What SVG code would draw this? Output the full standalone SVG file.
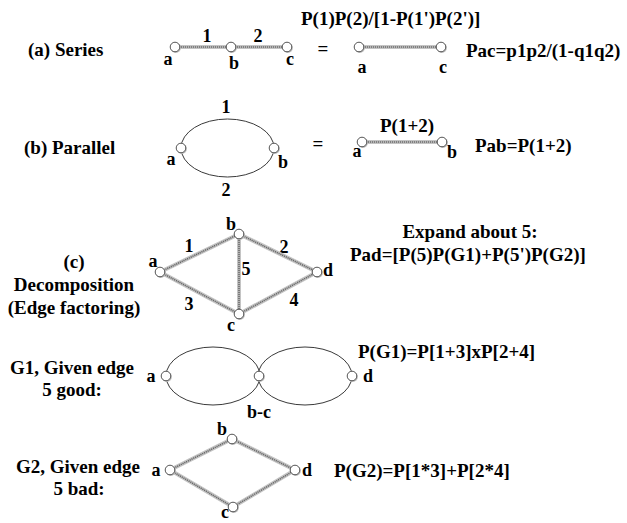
<svg xmlns="http://www.w3.org/2000/svg" width="627" height="523" viewBox="0 0 627 523">
<style>
text{font-family:"Liberation Serif","Times New Roman",serif;font-weight:bold;fill:#000}
.t{font-size:19px}
.l{font-size:18px}
.m{text-anchor:middle}
.eo{stroke:#c4c4c4;stroke-width:4;fill:none;stroke-linecap:round}
.ei{stroke:#6a6a6a;stroke-width:1.6;fill:none;stroke-dasharray:1.2 0.8}
.arc{stroke:#3a3a3a;stroke-width:1;fill:none}
.n{fill:#fff;stroke:#555;stroke-width:1}
.ns{fill:#bbb}
</style>
<defs>
<g id="nd"><circle class="ns" cx="0.8" cy="0.9" r="5"/><circle class="n" cx="0" cy="0" r="4.8"/></g>
</defs>

<g id="labels">
<text class="t" x="28" y="56">(a) Series</text>
<text class="t" x="301" y="25">P(1)P(2)/[1-P(1')P(2')]</text>
<text class="t m" x="323" y="55">=</text>
<text class="t" x="466" y="57">Pac=p1p2/(1-q1q2)</text>
<text class="l m" x="207" y="42">1</text>
<text class="l m" x="258" y="42">2</text>
<text class="l m" x="168" y="65">a</text>
<text class="l m" x="234" y="69">b</text>
<text class="l m" x="290" y="65">c</text>
<text class="l m" x="362" y="73">a</text>
<text class="l m" x="443" y="73">c</text>

<text class="t" x="24" y="154">(b) Parallel</text>
<text class="l m" x="226" y="113">1</text>
<text class="l m" x="226" y="196">2</text>
<text class="l m" x="171" y="165">a</text>
<text class="l m" x="283" y="168">b</text>
<text class="t m" x="318" y="150">=</text>
<text class="t m" x="407" y="132">P(1+2)</text>
<text class="l m" x="357" y="157">a</text>
<text class="l m" x="452" y="158">b</text>
<text class="t" x="475" y="152">Pab=P(1+2)</text>

<text class="t m" x="74" y="268">(c)</text>
<text class="t m" x="74" y="291">Decomposition</text>
<text class="t m" x="74" y="314">(Edge factoring)</text>
<text class="l m" x="153" y="267">a</text>
<text class="l m" x="231" y="230">b</text>
<text class="l m" x="231" y="331">c</text>
<text class="l m" x="328" y="276">d</text>
<text class="l m" x="189" y="252">1</text>
<text class="l m" x="284" y="253">2</text>
<text class="l m" x="189" y="310">3</text>
<text class="l m" x="294" y="306">4</text>
<text class="l m" x="246" y="275">5</text>
<text class="t m" x="470" y="238">Expand about 5:</text>
<text class="t" x="350" y="261">Pad=[P(5)P(G1)+P(5')P(G2)]</text>

<text class="t m" x="72" y="374">G1, Given edge</text>
<text class="t m" x="72" y="396">5 good:</text>
<text class="l m" x="151" y="382">a</text>
<text class="l m" x="368" y="382">d</text>
<text class="l m" x="259" y="418">b-c</text>
<text class="t" x="358" y="358">P(G1)=P[1+3]xP[2+4]</text>

<text class="t m" x="78" y="473">G2, Given edge</text>
<text class="t m" x="79" y="495">5 bad:</text>
<text class="l m" x="222" y="435">b</text>
<text class="l m" x="156" y="476">a</text>
<text class="l m" x="307" y="476">d</text>
<text class="l m" x="225" y="518">c</text>
<text class="t" x="334" y="477">P(G2)=P[1*3]+P[2*4]</text>
</g>

<g id="connectors">
<g id="e-series">
<path class="eo" d="M175 47H231M231 47H287M359 47H441"/>
<path class="ei" d="M175 47H231M231 47H287M359 47H441"/>
</g>
<g id="e-parallel">
<ellipse class="arc" cx="227.5" cy="148" rx="46.5" ry="29"/>
<path class="eo" d="M362 142H442"/>
<path class="ei" d="M362 142H442"/>
</g>
<g id="e-diamond">
<path class="eo" d="M160 272L239 234M239 234L317 272M160 272L239 314M239 314L317 272M239 234V314"/>
<path class="ei" d="M160 272L239 234M239 234L317 272M160 272L239 314M239 314L317 272M239 234V314"/>
</g>
<g id="e-g1">
<ellipse class="arc" cx="213" cy="376" rx="47" ry="29"/>
<ellipse class="arc" cx="305" cy="376" rx="47" ry="29"/>
</g>
<g id="e-g2">
<path class="eo" d="M170 470L232 439L295 470L233 507Z"/>
<path class="ei" d="M170 470L232 439L295 470L233 507Z"/>
</g>
</g>

<g id="s-a"><use href="#nd" x="175" y="47"/></g>
<g id="s-b"><use href="#nd" x="231" y="47"/></g>
<g id="s-c"><use href="#nd" x="287" y="47"/></g>
<g id="s2-a"><use href="#nd" x="359" y="47"/></g>
<g id="s2-c"><use href="#nd" x="441" y="47"/></g>
<g id="p-a"><use href="#nd" x="181" y="148"/></g>
<g id="p-b"><use href="#nd" x="274" y="148"/></g>
<g id="p2-a"><use href="#nd" x="362" y="142"/></g>
<g id="p2-b"><use href="#nd" x="442" y="142"/></g>
<g id="c-a"><use href="#nd" x="160" y="272"/></g>
<g id="c-b"><use href="#nd" x="239" y="234"/></g>
<g id="c-c"><use href="#nd" x="239" y="314"/></g>
<g id="c-d"><use href="#nd" x="317" y="272"/></g>
<g id="g1-a"><use href="#nd" x="166" y="376"/></g>
<g id="g1-bc"><use href="#nd" x="259" y="376"/></g>
<g id="g1-d"><use href="#nd" x="352" y="376"/></g>
<g id="g2-a"><use href="#nd" x="170" y="470"/></g>
<g id="g2-b"><use href="#nd" x="232" y="439"/></g>
<g id="g2-c"><use href="#nd" x="233" y="507"/></g>
<g id="g2-d"><use href="#nd" x="295" y="470"/></g>
</svg>
